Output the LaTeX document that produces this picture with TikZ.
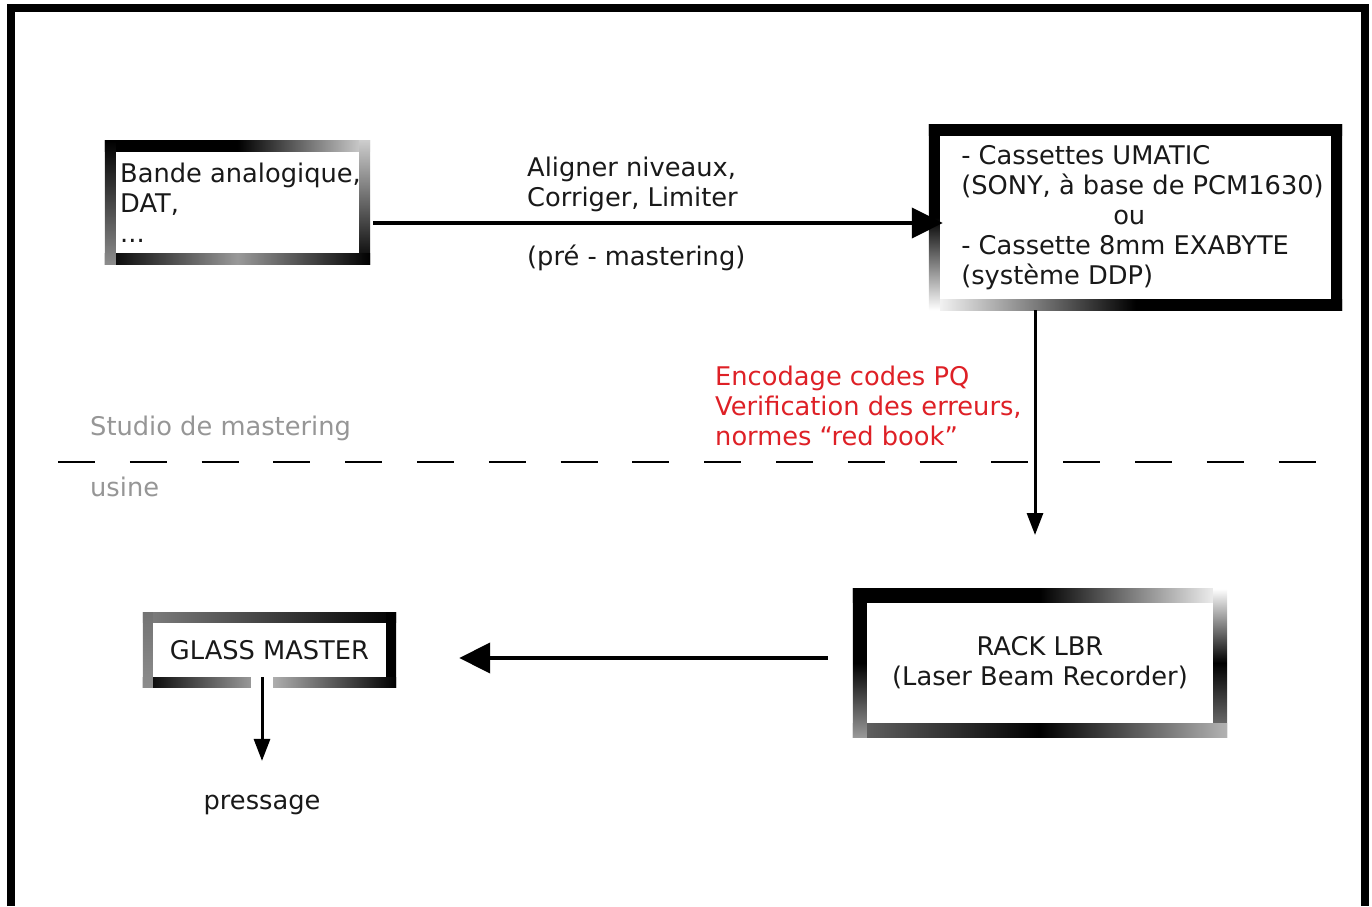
\documentclass[tikz,border=0pt]{standalone}
\usepackage{fontspec}
\setmainfont{DejaVu Sans}
\usetikzlibrary{arrows.meta}
\definecolor{pqred}{RGB}{222,32,38}
\definecolor{zonegray}{RGB}{150,150,150}
\definecolor{ink}{RGB}{25,25,25}

% shaded frame round a node: node, thickness, top, right, bottom, left
\newcommand{\bevel}[6]{%
	\shade[#3] (#1.north west) rectangle ([yshift=-#2]#1.north east);
	\shade[#4] ([xshift=-#2]#1.north east) rectangle (#1.south east);
	\shade[#5] ([yshift=#2]#1.south west) rectangle (#1.south east);
	\shade[#6] (#1.north west) rectangle ([xshift=#2]#1.south west);
}
\newcommand{\ind}[1]{\hspace*{#1}}

\begin{document}
\begin{tikzpicture}[x=1pt,y=1pt,
	every node/.style={font=\fontsize{25.7}{30}\selectfont, inner sep=0pt, text=ink},
	fat/.style={line width=4pt, -{Triangle[length=31pt,width=30pt]}},
	slim/.style={line width=3pt, -{Triangle[length=22pt,width=16pt]}}]
	\useasboundingbox (0,0) rectangle (1372,906);
	\draw[line width=8pt, line join=miter] (11,0) -- (11,898) -- (1365,898) -- (1365,0);

	\node[minimum width=265pt, minimum height=123pt, align=left] (src) at (237.5,703.5) {\ind{6pt}Bande analogique,\\\ind{6pt}DAT,\\\ind{6pt}...};
	\node[minimum width=413pt, minimum height=185pt, align=left] (tape) at (1135.5,688.5) {\ind{14pt}- Cassettes UMATIC\\\ind{14pt}(SONY, à base de PCM1630)\\\ind{166pt}ou\\\ind{14pt}- Cassette 8mm EXABYTE\\\ind{14pt}(système DDP)};
	\node[minimum width=374pt, minimum height=148pt, align=center] (lbr) at (1040,243) {RACK LBR\\(Laser Beam Recorder)};
	\node[minimum width=253pt, minimum height=74pt] (glass) at (269.5,256) {GLASS MASTER};
	\node (press) at (262,101) {pressage};
	\coordinate (enc) at (1035,371);

	\node[anchor=west, align=left] (steps) at (527,722) {Aligner niveaux,\\Corriger, Limiter};
	\node[anchor=west] (pre) at (527,648) {(pré - mastering)};
	\node[anchor=west, align=left, text=pqred] (pq) at (715,500) {Encodage codes PQ\\Verification des erreurs,\\normes “red book”};
	\node[anchor=west, text=zonegray] (studio) at (90,478) {Studio de mastering};
	\node[anchor=west, text=zonegray] (usine) at (90,419) {usine};

	\bevel{src}{11pt}{left color=black,right color=black!15,middle color=black}{top color=black!20,bottom color=black}{left color=black,right color=black,middle color=black!40}{top color=black,bottom color=black!45}
	\bevel{tape}{11pt}{left color=black,right color=black}{top color=black,bottom color=black}{left color=white,right color=black,middle color=black}{top color=black,bottom color=white,middle color=black}
	\bevel{lbr}{14pt}{left color=black,right color=white,middle color=black}{top color=white,bottom color=black!50,middle color=black}{left color=black!60,right color=black!30,middle color=black}{top color=black,bottom color=black!40,middle color=black}
	\bevel{glass}{10pt}{left color=black!50,right color=black}{top color=black,bottom color=black}{left color=black,right color=black,middle color=black!30}{top color=black!55,bottom color=black!45}

	\draw[line width=2pt, dash pattern=on 37pt off 34.8pt] (58,444) -- (1316,444);

	\draw[fat, shorten >=-14pt] ([shift={(3pt,-20.5pt)}]src.east) -- ([yshift=-5.5pt]tape.west);
	\draw[slim] (tape.south -| enc) -- (enc);
	\draw[fat] ([shift={(-25pt,5pt)}]lbr.west) -- ([shift={(63pt,-8pt)}]glass.east);
	\draw[slim, shorten >=34pt, preaction={draw=white, line width=22pt, arrows=-}] ([shift={(-7.5pt,10pt)}]glass.south) -- (press);
\end{tikzpicture}
\end{document}
